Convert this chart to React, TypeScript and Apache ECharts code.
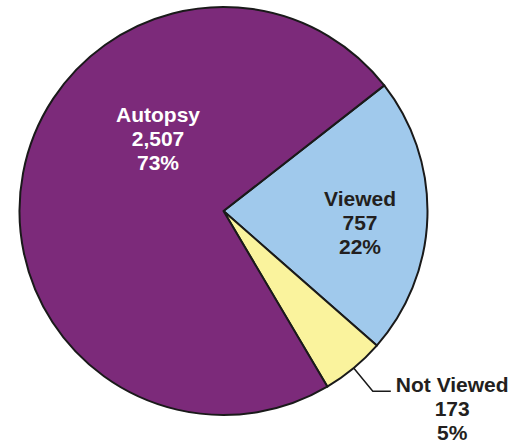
import React, { useEffect, useRef } from 'react';
import * as echarts from 'echarts';

const categories = ['Viewed', 'Not Viewed', 'Autopsy'];
const counts = [757, 173, 2507];
const sliceColors = ['#A0C9EC', '#FAF39D', '#7C2A7A'];
const labelColors = ['#231F20', '#231F20', '#FFFFFF'];

const insideLabelPos: Record<string, [number, number]> = {
  Autopsy: [158, 138],
  Viewed: [360, 222.5],
};

export default function App() {
  const ref = useRef<HTMLDivElement>(null);
  useEffect(() => {
    const chart = echarts.init(ref.current!, null, { renderer: 'svg' });
    const font = {
      fontFamily: '"Liberation Sans", Arial, sans-serif',
      fontWeight: 'bold' as const,
      fontSize: 21,
      lineHeight: 24,
    };
    chart.setOption({
      animation: false,
      series: [
        {
          type: 'pie',
          center: [223.5, 211],
          radius: 204,
          startAngle: 38,
          clockwise: true,
          avoidLabelOverlap: false,
          silent: true,
          itemStyle: { borderColor: '#1a1a1a', borderWidth: 2 },
          label: {
            ...font,
            formatter: (p: any) =>
              `{t|${p.name}}\n{t|${Number(p.value).toLocaleString('en-US')}}\n{t|${Math.round(p.percent)}%}`,
            rich: { t: { ...font, align: 'center' } },
          },
          labelLine: {
            length: 30,
            length2: 18,
            lineStyle: { color: '#1a1a1a', width: 1.5 },
          },
          labelLayout: (p: any) => {
            const pos = insideLabelPos[categories[p.dataIndex]];
            if (!pos) return {};
            return { x: pos[0], y: pos[1], align: 'center', verticalAlign: 'middle' };
          },
          data: categories.map((name, i) => {
            const outside = name === 'Not Viewed';
            return {
              name,
              value: counts[i],
              itemStyle: { color: sliceColors[i] },
              label: {
                position: outside ? 'outside' : 'inside',
                color: labelColors[i],
                padding: outside ? [35, 0, 0, 0] : 0,
              },
              labelLine: { show: outside },
            };
          }),
        },
      ],
    });
    return () => chart.dispose();
  }, []);
  return (
    <div
      ref={ref}
      style={{ position: 'fixed', left: 0, top: 0, width: 520, height: 446, background: '#fff' }}
    />
  );
}
